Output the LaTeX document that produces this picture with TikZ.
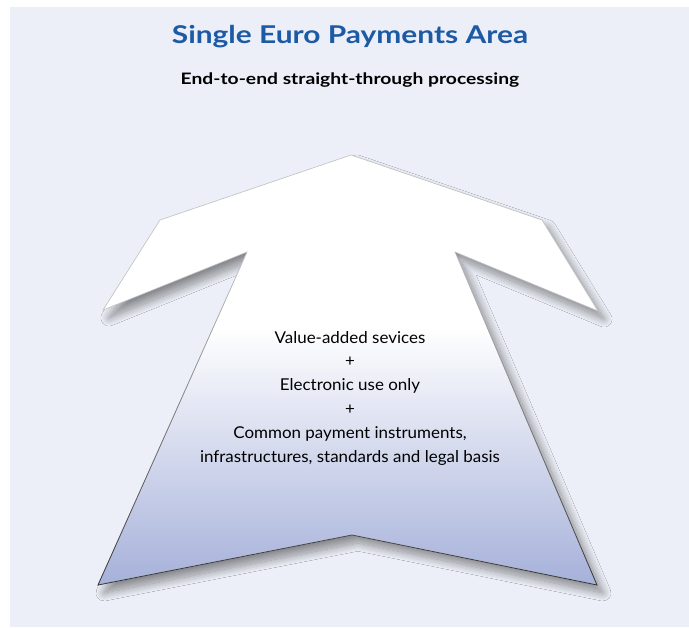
\documentclass[tikz,border=0pt]{standalone}
\usepackage{fontspec}
\setmainfont{Lato}
\newfontfamily\headfont[FakeStretch=1.22]{Lato}
\newfontfamily\bodyfont[FakeStretch=1.04]{Lato}
\usetikzlibrary{shadows.blur,fadings}
\definecolor{panel}{HTML}{ECEFF7}
\definecolor{titleblue}{HTML}{1C5AA6}
\definecolor{arrowblue}{HTML}{A6B1DA}
\pgfdeclareverticalshading{arrowfill}{100bp}{color(0bp)=(arrowblue); color(25bp)=(arrowblue); color(55bp)=(white); color(100bp)=(white)}
\tikzset{
  titletext/.style={font=\headfont\fontsize{24.5}{28}\selectfont\bfseries, text=titleblue},
  subtext/.style={font=\headfont\fontsize{15.8}{19}\selectfont\bfseries, text=black},
  bodytext/.style={font=\bodyfont\fontsize{16.3}{23.8}\selectfont, align=center, text=black},
  arrowbody/.style={shading=arrowfill, blur shadow={shadow xshift=6pt, shadow yshift=-8pt, shadow blur radius=8pt, shadow blur steps=16, shadow opacity=42}},
}
\begin{document}
\begin{tikzpicture}[x=1pt,y=-1pt]
  \useasboundingbox (0,0) rectangle (689,628);
  % background panel
  \fill[panel] (10,7) rectangle (689,627);
  % outline points of the arrow
  \coordinate (tip) at (351,155);
  \coordinate (shL) at (160,220);
  \coordinate (wingL) at (103,310);
  \coordinate (notchL) at (247,252);
  \coordinate (baseL) at (98,585);
  \coordinate (notchB) at (352,535);
  \coordinate (baseR) at (597,585);
  \coordinate (notchR) at (455,252);
  \coordinate (wingR) at (598,311);
  \coordinate (shR) at (542,220);
  % arrow body
  \path[arrowbody] (tip) -- (shR) -- (wingR) -- (notchR) -- (baseR) -- (notchB) -- (baseL) -- (notchL) -- (wingL) -- (shL) -- cycle;
  \draw[black!25, line width=0.6pt, line join=miter] (tip) -- (shR) -- (wingR) -- (notchR) -- (baseR) -- (notchB) -- (baseL) -- (notchL) -- (wingL) -- (shL) -- cycle;
  \draw[black!80, line width=0.8pt, line join=miter, path fading=north] (notchL) -- (baseL) -- (notchB) -- (baseR) -- (notchR);
  % headings
  \node[titletext] (title) at (350,37) {Single Euro Payments Area};
  \node[subtext] (subtitle) at (350,80) {End-to-end straight-through processing};
  % text inside the arrow
  \node[bodytext] (body) at (350,398) {Value-added sevices\\+\\Electronic use only\\+\\Common payment instruments,\\infrastructures, standards and legal basis};
\end{tikzpicture}
\end{document}
